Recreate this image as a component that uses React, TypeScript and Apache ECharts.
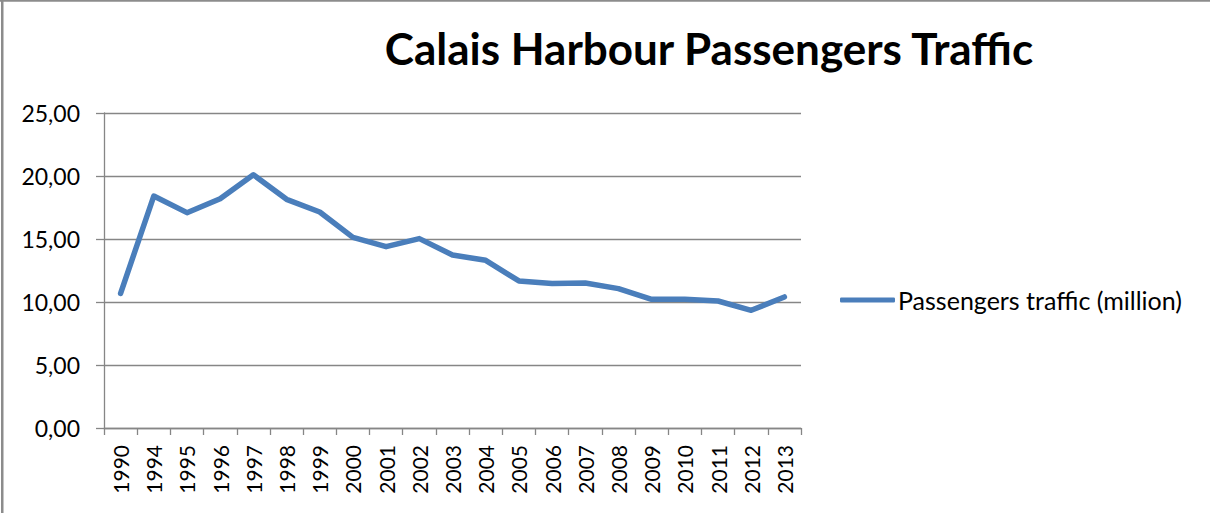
import React, { useEffect, useRef } from "react";
import * as echarts from "echarts";

const years = ["1990","1994","1995","1996","1997","1998","1999","2000","2001","2002","2003","2004","2005","2006","2007","2008","2009","2010","2011","2012","2013"];
const passengers = [10.69,18.41,17.09,18.2,20.1,18.15,17.14,15.13,14.39,15.03,13.73,13.31,11.67,11.46,11.51,11.06,10.21,10.21,10.08,9.34,10.4];
const seriesName = "Passengers traffic (million)";
const titleText = "Calais Harbour Passengers Traffic";

export default function App() {
  const ref = useRef<HTMLDivElement>(null);
  useEffect(() => {
    if (!ref.current) return;
    const chart = echarts.init(ref.current, null, { renderer: "svg" });
    const font = "Lato, 'Open Sans', sans-serif";
    chart.setOption({
      animation: false,
      backgroundColor: "#ffffff",
      title: {
        text: titleText,
        left: 704,
        top: 21,
        textAlign: "center",
        textStyle: { fontFamily: font, fontWeight: "bold", fontSize: 44, color: "#000000" },
      },
      legend: {
        left: 835,
        top: 282,
        itemWidth: 55,
        itemHeight: 5,
        itemGap: 0,
        textStyle: { fontFamily: font, fontSize: 25, lineHeight: 26, color: "#000000", padding: [0, 0, 0, -2] },
        data: [{ name: seriesName, icon: "roundRect" }],
        itemStyle: { color: "#4a7ebb" },
      },
      graphic: [
        { type: "rect", shape: { x: 1, y: 0, width: 2.5, height: 513 }, style: { fill: "#8c8c8c" } },
        { type: "rect", shape: { x: 0, y: 0, width: 1210, height: 1.7 }, style: { fill: "#8c8c8c" } },
      ],
      grid: { left: 104, right: 409, top: 113, bottom: 85, containLabel: false },
      xAxis: {
        type: "category",
        data: years,
        boundaryGap: true,
        axisLine: { show: true, lineStyle: { color: "#868686", width: 1.3 } },
        axisTick: { show: true, length: 7, interval: 0, lineStyle: { color: "#868686", width: 1.3 } },
        axisLabel: { rotate: 90, interval: 0, margin: 17, fontFamily: font, fontSize: 21, color: "#000000" },
        splitLine: { show: false },
      },
      yAxis: {
        type: "value",
        min: 0,
        max: 25,
        interval: 5,
        axisLine: { show: true, lineStyle: { color: "#868686", width: 1.3 } },
        axisTick: { show: true, length: 8, lineStyle: { color: "#868686", width: 1.3 } },
        axisLabel: {
          margin: 24,
          fontFamily: font,
          fontSize: 23,
          color: "#000000",
          formatter: (v: number) => v.toFixed(2).replace(".", ","),
        },
        splitLine: { show: true, lineStyle: { color: "#868686", width: 1.3 } },
      },
      series: [
        {
          name: seriesName,
          type: "line",
          data: passengers,
          symbol: "none",
          lineStyle: { color: "#4a7ebb", width: 5.5, cap: "round", join: "round" },
          itemStyle: { color: "#4a7ebb" },
        },
      ],
    });
    return () => chart.dispose();
  }, []);
  return <div ref={ref} style={{ position: "fixed", left: 0, top: 0, width: 1210, height: 513 }} />;
}
